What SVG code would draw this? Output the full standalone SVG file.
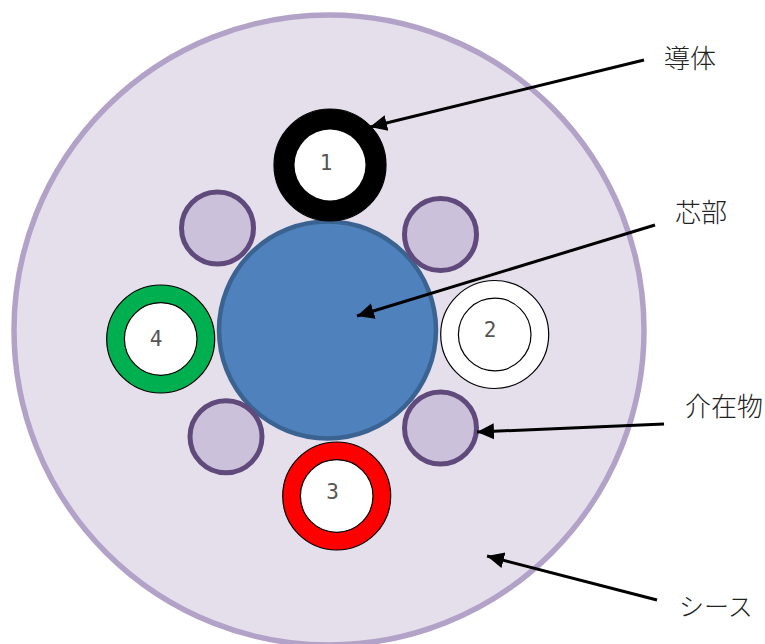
<svg xmlns="http://www.w3.org/2000/svg" width="765" height="644" viewBox="0 0 765 644">
<style>
.filler{fill:#ccc1da;stroke:#604a7b;stroke-width:5}
.ins{stroke:#000;stroke-width:1.2}
.cond{fill:#fff;stroke:#000;stroke-width:1.2}
.num{font-family:"DejaVu Sans Mono",monospace;font-size:21px;fill:#555;text-anchor:middle}
.lbl{font-family:"Noto Sans CJK JP",sans-serif;font-weight:300;font-size:26px;fill:#222}
.arr{stroke:#000;stroke-width:3;fill:none;marker-end:url(#ah)}
</style>
<defs>
<marker id="ah" markerUnits="userSpaceOnUse" markerWidth="18" markerHeight="18" refX="17" refY="9" orient="auto">
<path d="M0 1L17 9L0 17z" fill="#000"/>
</marker>
</defs>
<g id="sheath"><circle cx="329" cy="330" r="315" fill="#e5dfec" stroke="#b3a2c7" stroke-width="5.5"/></g>
<g id="core"><circle cx="327.5" cy="330" r="108.5" fill="#4f81bd" stroke="#3b6391" stroke-width="4.5"/></g>
<g id="filler-1"><circle class="filler" cx="217.5" cy="228" r="36"/></g>
<g id="filler-2"><circle class="filler" cx="440.5" cy="234.5" r="36"/></g>
<g id="filler-3"><circle class="filler" cx="226" cy="436.7" r="36"/></g>
<g id="filler-4"><circle class="filler" cx="440.5" cy="428" r="36"/></g>
<g id="wire-1"><circle class="ins" cx="330" cy="165" r="56" fill="#000"/><circle cx="330" cy="165" r="35.5" fill="#fff"/><text class="num" x="326" y="170">1</text></g>
<g id="wire-2"><circle class="ins" cx="494.7" cy="334.5" r="54" fill="#fff"/><circle class="cond" cx="494.7" cy="334.5" r="36.3"/><text class="num" x="490" y="337">2</text></g>
<g id="wire-3"><circle class="ins" cx="336.7" cy="496" r="54" fill="#f00"/><circle class="cond" cx="336.7" cy="496" r="36.3"/><text class="num" x="332.5" y="499">3</text></g>
<g id="wire-4"><circle class="ins" cx="160.7" cy="339" r="54" fill="#00b050"/><circle class="cond" cx="160.7" cy="339" r="36.3"/><text class="num" x="156" y="346">4</text></g>
<g id="connectors">
<path class="arr" d="M644 60L370 127"/>
<path class="arr" d="M655 225L357 316"/>
<path class="arr" d="M664 424L477 432"/>
<path class="arr" d="M657 600L487 556"/>
</g>
<g id="labels">
<text class="lbl" x="664" y="68">導体</text>
<text class="lbl" x="675" y="222">芯部</text>
<text class="lbl" x="685" y="416">介在物</text>
<text class="lbl" x="679" y="616" style="font-size:25px">シース</text>
</g>
</svg>
